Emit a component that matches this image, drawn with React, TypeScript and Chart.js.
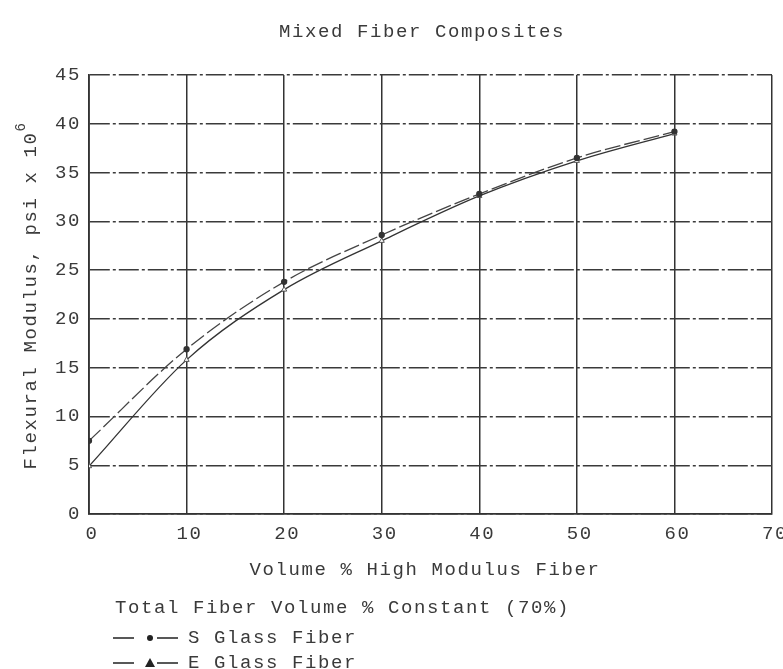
import React, { useEffect, useRef } from 'react';
import { Chart, registerables } from 'chart.js';

Chart.register(...registerables);

// ---- data ----
const volumePct = [0, 10, 20, 30, 40, 50, 60];
const sGlass = [7.5, 16.9, 23.8, 28.6, 32.8, 36.5, 39.2];
const eGlass = [4.9, 15.8, 23.0, 28.0, 32.6, 36.2, 39.0];
const xTickValues = [0, 10, 20, 30, 40, 50, 60, 70];
const yTickValues = [0, 5, 10, 15, 20, 25, 30, 35, 40, 45];

const chartTitle = 'Mixed Fiber Composites';
const xTitle = 'Volume % High Modulus Fiber';
const yTitle = 'Flexural Modulus, psi x 10';
const yTitleExp = '6';
const legendTitle = 'Total Fiber Volume % Constant (70%)';
const seriesNames = ['S Glass Fiber', 'E Glass Fiber'];

const FONT = '"Liberation Mono", "DejaVu Sans Mono", monospace';
const SPACING = '1.6px';
const INK = '#3a3a3a';

const typedText = {
  id: 'typedText',
  beforeDraw(chart: any) {
    chart.ctx.letterSpacing = SPACING;
  },
  afterDraw(chart: any) {
    const ctx = chart.ctx;
    const a = chart.chartArea;
    ctx.save();
    ctx.letterSpacing = SPACING;
    ctx.fillStyle = INK;
    ctx.font = `19px ${FONT}`;
    ctx.textBaseline = 'middle';
    ctx.textAlign = 'center';
    ctx.fillText(chartTitle, 422, 32);
    ctx.fillText(xTitle, 425, a.bottom + 56);

    // y title (rotated) with superscript
    ctx.save();
    ctx.translate(31, (a.top + a.bottom) / 2);
    ctx.rotate(-Math.PI / 2);
    const w = ctx.measureText(yTitle).width;
    ctx.textAlign = 'left';
    ctx.fillText(yTitle, -w / 2 - 6, 0);
    ctx.font = `14px ${FONT}`;
    ctx.fillText(yTitleExp, w / 2 - 6, -10);
    ctx.restore();

    // legend
    ctx.textAlign = 'left';
    ctx.font = `19px ${FONT}`;
    ctx.fillText(legendTitle, 115, a.bottom + 94);
    const rows = [a.bottom + 124, a.bottom + 149];
    ctx.strokeStyle = '#222';
    ctx.lineWidth = 1.5;
    rows.forEach((ry, i) => {
      ctx.beginPath();
      ctx.moveTo(113, ry);
      ctx.lineTo(134, ry);
      ctx.moveTo(157, ry);
      ctx.lineTo(178, ry);
      ctx.stroke();
      ctx.fillStyle = '#222';
      ctx.beginPath();
      if (i === 0) {
        ctx.arc(150, ry, 3, 0, Math.PI * 2);
      } else {
        ctx.moveTo(150, ry - 5);
        ctx.lineTo(155, ry + 4);
        ctx.lineTo(145, ry + 4);
        ctx.closePath();
      }
      ctx.fill();
      ctx.fillStyle = INK;
      ctx.fillText(seriesNames[i], 188, ry);
    });
    ctx.restore();
  },
};

export default function App() {
  const ref = useRef<HTMLCanvasElement>(null);

  useEffect(() => {
    if (!ref.current) return;
    const tickFont = { family: FONT, size: 19 };
    const chart = new Chart(ref.current, {
      type: 'scatter',
      data: {
        datasets: [
          {
            label: seriesNames[0],
            data: volumePct.map((x, i) => ({ x, y: sGlass[i] })),
            showLine: true,
            borderColor: '#444',
            borderWidth: 1.3,
            borderDash: [16, 4],
            cubicInterpolationMode: 'monotone',
            pointStyle: 'circle',
            pointRadius: 2.5,
            pointBackgroundColor: '#333',
            pointBorderColor: '#333',
          },
          {
            label: seriesNames[1],
            data: volumePct.map((x, i) => ({ x, y: eGlass[i] })),
            showLine: true,
            borderColor: '#333',
            borderWidth: 1.3,
            cubicInterpolationMode: 'monotone',
            pointStyle: 'triangle',
            pointRadius: 3,
            pointBackgroundColor: '#fff',
            pointBorderColor: '#555',
            pointBorderWidth: 1,
          },
        ],
      },
      options: {
        responsive: false,
        animation: false,
        devicePixelRatio: 1,
        layout: { padding: { top: 75, right: 11, left: 0, bottom: 0 } },
        plugins: {
          legend: { display: false },
          title: { display: false },
          tooltip: { enabled: false },
        },
        scales: {
          x: {
            type: 'linear',
            min: 0,
            max: 70,
            afterBuildTicks: (s: any) => {
              s.ticks = xTickValues.map((v) => ({ value: v }));
            },
            afterFit: (s: any) => {
              s.height = 155;
              s.paddingLeft = 0;
              s.paddingRight = 0;
            },
            ticks: {
              padding: 9,
              labelOffset: 3,
              color: INK,
              font: tickFont,
              maxRotation: 0,
              autoSkip: false,
            },
            grid: { color: '#333', lineWidth: 1.5, drawTicks: false },
            border: { display: true, color: '#333', width: 1.8 },
          },
          y: {
            type: 'linear',
            min: 0,
            max: 45,
            afterBuildTicks: (s: any) => {
              s.ticks = yTickValues.map((v) => ({ value: v }));
            },
            afterFit: (s: any) => {
              s.width = 89;
              s.paddingTop = 0;
              s.paddingBottom = 0;
            },
            ticks: {
              padding: 8,
              color: INK,
              font: tickFont,
              autoSkip: false,
            },
            grid: { color: '#3a3a3a', lineWidth: 1.4, drawTicks: false },
            border: { display: true, color: '#333', width: 1.8, dash: [20, 3, 3, 3] },
          },
        },
      },
      plugins: [typedText],
    } as any);
    return () => chart.destroy();
  }, []);

  return (
    <div style={{ position: 'fixed', left: 0, top: 0, width: 783, height: 669, background: '#fff' }}>
      <canvas ref={ref} width={783} height={669} style={{ display: 'block' }} />
    </div>
  );
}
